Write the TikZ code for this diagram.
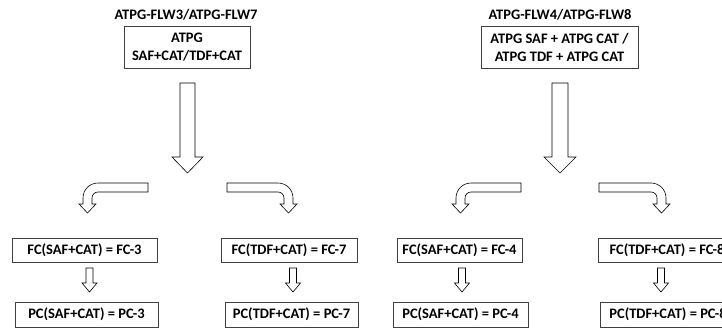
\documentclass[tikz,border=0pt]{standalone}
\usepackage{fontspec}
\setmainfont{Carlito}
\begin{document}
\begin{tikzpicture}[x=1pt,y=-1pt,
  lbl/.style={inner sep=0pt, align=center, font=\fontsize{14.5}{18}\selectfont\bfseries},
  box/.style={lbl, draw=black!75, line width=0.7pt},
  blk/.style={draw=black, line width=0.6pt, fill=white, line join=miter}]
\useasboundingbox (0,0) rectangle (722,329);
\clip (0,0) rectangle (722,329);
% titles
\node[lbl] (t1) at (186,15) {ATPG-FLW3/ATPG-FLW7};
\node[lbl] (t2) at (560,15) {ATPG-FLW4/ATPG-FLW8};
% top boxes
\node[box, minimum width=126pt, minimum height=42pt] (b1) at (187,47) {ATPG\\SAF+CAT/TDF+CAT};
\node[box, minimum width=157pt, minimum height=42pt] (b2) at (559.5,47) {ATPG SAF + ATPG CAT /\\ATPG TDF + ATPG CAT};
% result boxes
\node[box, minimum width=145pt, minimum height=24pt] (fc3) at (84.5,250) {FC(SAF+CAT) = FC-3};
\node[box, minimum width=143pt, minimum height=25pt] (pc3) at (86.5,314.5) {PC(SAF+CAT) = PC-3};
\node[box, minimum width=136pt, minimum height=24pt] (fc7) at (289,250) {FC(TDF+CAT) = FC-7};
\node[box, minimum width=133pt, minimum height=25pt] (pc7) at (291.5,314.5) {PC(TDF+CAT) = PC-7};
\node[box, minimum width=125pt, minimum height=24pt] (fc4) at (459.5,250) {FC(SAF+CAT) = FC-4};
\node[box, minimum width=135pt, minimum height=25pt] (pc4) at (460.5,314.5) {PC(SAF+CAT) = PC-4};
\node[box, minimum width=137pt, minimum height=24pt] (fc8) at (667,250) {FC(TDF+CAT) = FC-8};
\node[box, minimum width=136pt, minimum height=25pt] (pc8) at (668,314.5) {PC(TDF+CAT) = PC-8};
% big down arrows
\draw[blk] (180,83) -- (195,83) -- (195,157) -- (203,157) -- (187.5,173) -- (172,157) -- (180,157) -- cycle;
\draw[blk] (552,83) -- (568,83) -- (568,157) -- (576,157) -- (560,173) -- (544,157) -- (552,157) -- cycle;
% bent arrows, left group
\draw[blk] (148,183) -- (98,183) .. controls (89.7,183) and (83,189.7) .. (83,198) -- (83,204) -- (79,204) -- (87.5,213) -- (96,204) -- (92,204) -- (92,198) .. controls (92,194.7) and (94.7,192) .. (98,192) -- (148,192) -- cycle;
\draw[blk] (227,183) -- (278,183) .. controls (286.3,183) and (293,189.7) .. (293,198) -- (293,204) -- (297,204) -- (288.5,213) -- (280,204) -- (284,204) -- (284,198) .. controls (284,194.7) and (281.3,192) .. (278,192) -- (227,192) -- cycle;
% bent arrows, right group
\draw[blk] (521,183) -- (471,183) .. controls (462.7,183) and (456,189.7) .. (456,198) -- (456,204) -- (452,204) -- (460.5,213) -- (469,204) -- (465,204) -- (465,198) .. controls (465,194.7) and (467.7,192) .. (471,192) -- (521,192) -- cycle;
\draw[blk] (599,183) -- (651,183) .. controls (659.3,183) and (666,189.7) .. (666,198) -- (666,204) -- (670,204) -- (661.5,213) -- (653,204) -- (657,204) -- (657,198) .. controls (657,194.7) and (654.3,192) .. (651,192) -- (599,192) -- cycle;
% small arrows
\foreach \cx in {89.5,293,462,661}{
  \draw[blk] (\cx-3.5,268) -- (\cx+3.5,268) -- (\cx+3.5,283) -- (\cx+7.5,283) -- (\cx,292) -- (\cx-7.5,283) -- (\cx-3.5,283) -- cycle;
}
\end{tikzpicture}
\end{document}
